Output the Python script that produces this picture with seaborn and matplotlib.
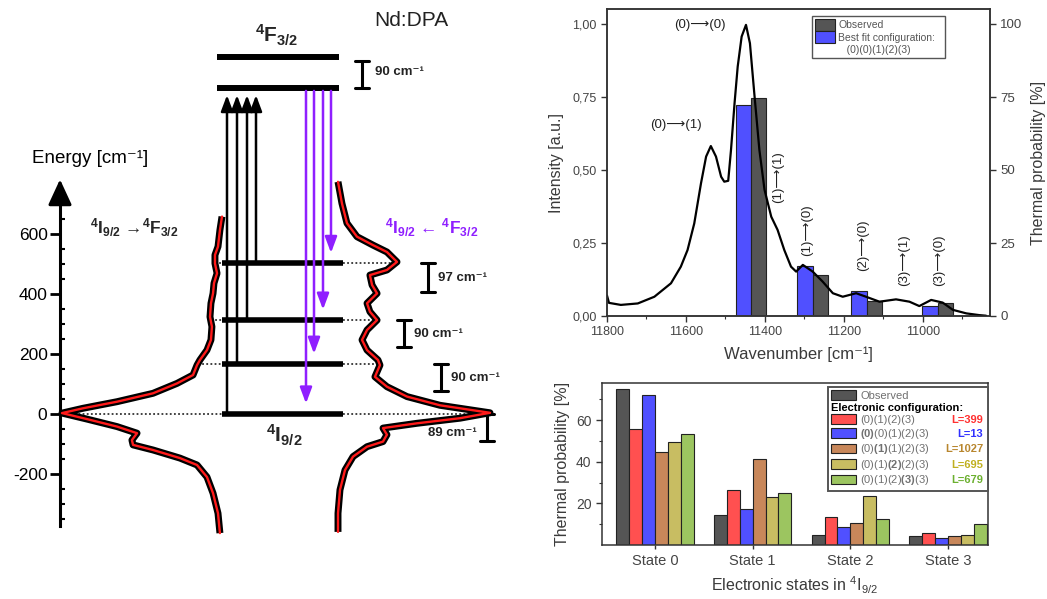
import numpy as np
import pandas as pd
import matplotlib
matplotlib.use("Agg")
import matplotlib.pyplot as plt
import matplotlib.transforms as mtransforms
from matplotlib.patches import Patch
from matplotlib.ticker import FuncFormatter, FixedLocator
import seaborn as sns

sns.set_theme(style="white")
plt.rcParams["font.family"] = ["Liberation Sans", "DejaVu Sans"]
plt.rcParams["mathtext.fontset"] = "custom"
plt.rcParams["mathtext.rm"] = "Liberation Sans"
plt.rcParams["mathtext.it"] = "Liberation Sans:italic"
plt.rcParams["mathtext.bf"] = "Liberation Sans:bold"
plt.rcParams["mathtext.default"] = "regular"
plt.rcParams["axes.unicode_minus"] = False
plt.rcParams["xtick.bottom"] = True
plt.rcParams["ytick.left"] = True

RARR = "\u27f6"

# ---------------- data: energy diagram (cm-1) ----------------
ground_levels = [0, 166, 313, 502]
upper_levels = [1085, 1189]
level_gaps = [89, 90, 90, 97]
upper_gap = 90
energy_ticks = [-200, 0, 200, 400, 600]

abs_energy = [658, 613, 558, 530, 502, 469, 436, 402, 369, 324, 291, 247, 213, 180, 163, 130,
              102, 69, 41, 19, 3, -17, -42, -64, -87, -103, -120, -147, -170, -210, -264, -331, -397]
abs_intensity = [0.0, 0.013, 0.025, 0.044, 0.044, 0.031, 0.05, 0.056, 0.069, 0.075, 0.063, 0.069,
                 0.094, 0.138, 0.156, 0.181, 0.281, 0.431, 0.656, 0.869, 1.0, 0.844, 0.656, 0.531,
                 0.563, 0.556, 0.431, 0.263, 0.156, 0.094, 0.056, 0.025, 0.013]
em_energy = [774, 702, 636, 591, 563, 540, 507, 480, 463, 430, 402, 369, 341, 313, 280, 247, 213,
             180, 163, 124, 91, 58, 29, 4, -14, -31, -47, -69, -92, -109, -142, -187, -253, -331, -393]
em_intensity = [0.0, 0.026, 0.059, 0.125, 0.23, 0.322, 0.388, 0.322, 0.21, 0.224, 0.257, 0.191,
                0.21, 0.257, 0.191, 0.158, 0.191, 0.263, 0.276, 0.243, 0.322, 0.454, 0.671, 1.0,
                0.803, 0.52, 0.296, 0.322, 0.296, 0.191, 0.099, 0.046, 0.013, 0.0, 0.0]

# ---------------- data: emission spectrum ----------------
spec_wn = [11800, 11795, 11765, 11722, 11680, 11638, 11613, 11596, 11579, 11562, 11549, 11537,
           11524, 11511, 11503, 11493, 11486, 11477, 11469, 11459, 11448, 11438, 11427, 11414,
           11401, 11384, 11368, 11351, 11334, 11321, 11304, 11279, 11254, 11228, 11203, 11169,
           11144, 11110, 11068, 11034, 11009, 10979, 10950, 10924, 10890, 10857, 10840]
spec_int = [0.07, 0.045, 0.038, 0.043, 0.066, 0.112, 0.169, 0.226, 0.317, 0.454, 0.546, 0.582,
            0.546, 0.477, 0.46, 0.463, 0.568, 0.728, 0.854, 0.957, 0.997, 0.934, 0.763, 0.568,
            0.432, 0.34, 0.295, 0.226, 0.169, 0.152, 0.175, 0.152, 0.118, 0.078, 0.066, 0.078,
            0.066, 0.049, 0.057, 0.049, 0.034, 0.055, 0.046, 0.021, 0.009, 0.003, 0.001]
bar_wn_fit = [11455, 11299, 11162, 10982]
bar_wn_obs = [11416, 11259, 11122, 10943]
spec_peak_labels = [f"(0){RARR}(0)", f"(0){RARR}(1)", f"(1){RARR}(1)", f"(1){RARR}(0)",
                    f"(2){RARR}(0)", f"(3){RARR}(1)", f"(3){RARR}(0)"]
spec_peak_wn = [11566, 11625, 11367, 11292, 11152, 11047, 10958]
spec_peak_y = [0.995, 0.654, 0.477, 0.295, 0.243, 0.19, 0.19]
spec_peak_rot = [0, 0, 90, 90, 90, 90, 90]

# ---------------- data: thermal probabilities ----------------
states = ["State 0", "State 1", "State 2", "State 3"]
observed = [74.7, 14.2, 5.0, 4.3]
cfg_399 = [55.8, 26.4, 13.3, 5.6]
cfg_13 = [72.2, 17.1, 8.6, 3.5]
cfg_1027 = [44.8, 41.4, 10.6, 4.3]
cfg_695 = [49.6, 23.0, 23.4, 4.8]
cfg_679 = [53.1, 24.8, 12.5, 10.2]
L_values = [399, 13, 1027, 695, 679]
cfg_labels = ["(0)(1)(2)(3)", r"$\mathbf{(0)}$(0)(1)(2)(3)", r"(0)$\mathbf{(1)}$(1)(2)(3)",
              r"(0)(1)$\mathbf{(2)}$(2)(3)", r"(0)(1)(2)$\mathbf{(3)}$(3)"]

# ---------------- styles ----------------
c_obs = "#555555"
c_cfg = ["#ff5050", "#5050ff", "#c8875a", "#c8bd62", "#9cc560"]
c_L = ["#ff3030", "#3030ff", "#b8862e", "#c0b020", "#6cb030"]
purple = "#8f1fff"
txt = "#3a3a3a"

W, H = 1047, 599
fig = plt.figure(figsize=(W / 100, H / 100), dpi=100)

# =============== LEFT: energy diagram ===============
axL = fig.add_axes([0, 0, 520 / W, 1])
axL.set_xlim(0, 520)
axL.set_ylim(-616.7, 1380)
axL.patch.set_visible(False)
for s in ["top", "right", "bottom"]:
    axL.spines[s].set_visible(False)
axL.spines["left"].set_position(("data", 60))
axL.spines["left"].set_bounds(-375, 745)
axL.spines["left"].set_linewidth(2.2)
axL.spines["left"].set_color("black")
axL.set_xticks([])
axL.yaxis.set_major_locator(FixedLocator(energy_ticks))
axL.yaxis.set_minor_locator(FixedLocator([v for v in np.arange(-350, 701, 50) if v not in energy_ticks]))
axL.tick_params(axis="y", which="major", left=True, direction="out", length=7, width=2,
                labelsize=12.5, colors="black", pad=2)
axL.tick_params(axis="y", which="minor", left=True, direction="in", length=3.5, width=1.5, color="black")
axL.annotate("", xy=(60, 782), xytext=(60, 720),
             arrowprops=dict(arrowstyle="-|>,head_width=0.6,head_length=1.3", color="black",
                             lw=2.2, shrinkA=0, shrinkB=0))
axL.text(32, 853, "Energy [cm\u207b\u00b9]", fontsize=13.5, ha="left", va="center", color="black")

abs_base, abs_scale = 222, 160
em_base, em_scale = 338, 152
absx = abs_base - abs_scale * np.array(abs_intensity)
emx = em_base + em_scale * np.array(em_intensity)
lvl_x0, lvl_x1 = 222, 343

# dotted guide lines
absE = np.array(abs_energy)[::-1]; absX = absx[::-1]
emE = np.array(em_energy)[::-1]; emX = emx[::-1]
for lv in ground_levels:
    xl = np.interp(lv, absE, absX)
    xr = np.interp(lv, emE, emX)
    axL.plot([xl, lvl_x0], [lv, lv], ls=(0, (1, 1.3)), color="#333333", lw=1.3)
    axL.plot([lvl_x1, xr], [lv, lv], ls=(0, (1, 1.3)), color="#333333", lw=1.3)

for xs, ys in [(absx, abs_energy), (emx, em_energy)]:
    axL.plot(xs, ys, color="black", lw=5, solid_capstyle="butt", zorder=3)
    axL.plot(xs, ys, color="#ff1a1a", lw=1.7, zorder=4)

axL.hlines(ground_levels, lvl_x0, lvl_x1, color="black", lw=4, zorder=5)
axL.hlines(upper_levels, 217, 339, color="black", lw=4.3, zorder=5)

abs_arrow_x = [227, 237, 247, 256]
for x, lv in zip(abs_arrow_x, ground_levels):
    axL.annotate("", xy=(x, upper_levels[0] - 22), xytext=(x, lv),
                 arrowprops=dict(arrowstyle="-|>,head_width=0.3,head_length=0.8", color="black",
                                 lw=1.8, shrinkA=0, shrinkB=0), zorder=6)
em_arrow_x = [306, 314, 323, 331]
for x, lv in zip(em_arrow_x, ground_levels):
    axL.annotate("", xy=(x, lv + 35), xytext=(x, upper_levels[0] - 8),
                 arrowprops=dict(arrowstyle="-|>,head_width=0.3,head_length=0.8", color=purple,
                                 lw=1.8, shrinkA=0, shrinkB=0), zorder=6)

def bracket(x, top, gap, half=7):
    axL.plot([x, x], [top - gap, top], color="black", lw=2.2)
    axL.plot([x - half, x + half], [top, top], color="black", lw=2.2)
    axL.plot([x - half, x + half], [top - gap, top - gap], color="black", lw=2.2)

bracket_x = [487, 441, 404, 428]
for bx, lv, g in zip(bracket_x, ground_levels, level_gaps):
    bracket(bx, lv, g)
    if lv == 0:
        axL.text(bx - 10, lv - g * 0.72, f"{g} cm\u207b\u00b9", ha="right", va="center",
                 fontsize=9.5, fontweight="bold", color="#222222")
    else:
        axL.text(bx + 10, lv - g / 2, f"{g} cm\u207b\u00b9", ha="left", va="center",
                 fontsize=9.5, fontweight="bold", color="#222222")
bracket(362, upper_levels[0] + upper_gap, upper_gap)
axL.text(375, upper_levels[0] + upper_gap / 2 + 10, f"{upper_gap} cm\u207b\u00b9", ha="left", va="center",
         fontsize=9.5, fontweight="bold", color="#222222")

axL.text(277, 1262, r"$^{4}$F$_{3/2}$", ha="center", va="center", fontsize=15, fontweight="bold")
axL.text(411, 1313, "Nd:DPA", ha="center", va="center", fontsize=15, color="#222222")
axL.text(90, 620, r"$^{4}$I$_{9/2}$ " + "\u2192" + r"$^{4}$F$_{3/2}$",
         ha="left", va="center", fontsize=12.5, fontweight="bold")
axL.text(385, 620, r"$^{4}$I$_{9/2}$ " + "\u2190" + r" $^{4}$F$_{3/2}$",
         ha="left", va="center", fontsize=12.5, fontweight="bold", color=purple)
axL.text(284, -72, r"$^{4}$I$_{9/2}$", ha="center", va="center", fontsize=15, fontweight="bold")

# =============== TOP RIGHT: spectrum ===============
ax1 = fig.add_axes([607 / W, 1 - 316 / H, 383 / W, 306.6 / H])
ax1.set_xlim(11800, 10830)
ax1.set_ylim(0, 1.05)
ax1.bar(bar_wn_fit, np.array(cfg_13) / 100, width=39, color="#5050ff", edgecolor="#222222", lw=0.8, zorder=2)
ax1.bar(bar_wn_obs, np.array(observed) / 100, width=39, color=c_obs, edgecolor="#222222", lw=0.8, zorder=2)
sns.lineplot(x=spec_wn, y=spec_int, ax=ax1, color="black", lw=1.6, zorder=3)
for lab, xw, yv, rot in zip(spec_peak_labels, spec_peak_wn, spec_peak_y, spec_peak_rot):
    ax1.text(xw, yv, lab, rotation=rot, ha="center", va="center", fontsize=9.5, color="#222222")
ax1.set_yticks([0, 0.25, 0.5, 0.75, 1.0])
ax1.yaxis.set_major_formatter(FuncFormatter(lambda v, p: f"{v:.2f}".replace(".", ",")))
ax1.set_xticks([11800, 11600, 11400, 11200, 11000])
ax1.set_xticks([11700, 11500, 11300, 11100, 10900], minor=True)
ax1.tick_params(axis="both", which="major", direction="out", length=4, width=1, labelsize=9,
                labelcolor="#444444", color="#333333", left=True, bottom=True)
ax1.tick_params(axis="x", which="minor", direction="out", length=2.5, width=0.8, bottom=True, color="#333333")
ax1.set_ylabel("Intensity [a.u.]", fontsize=11.5, color=txt, labelpad=6)
ax1.set_xlabel("Wavenumber [cm\u207b\u00b9]", fontsize=12, color=txt, labelpad=6)
for s in ax1.spines.values():
    s.set_color("#333333"); s.set_linewidth(1.1)
ax1r = ax1.twinx()
ax1r.set_ylim(0, 105)
ax1r.set_yticks([0, 25, 50, 75, 100])
ax1r.tick_params(axis="y", right=True, direction="out", length=4, width=1, labelsize=9.5,
                 labelcolor="#444444", color="#333333")
ax1r.set_ylabel("Thermal probability [%]", fontsize=11.5, color=txt, labelpad=6)
for s in ax1r.spines.values():
    s.set_color("#333333"); s.set_linewidth(1.1)
leg1 = ax1.legend(handles=[Patch(facecolor=c_obs, edgecolor="#222222", lw=0.8),
                           Patch(facecolor="#5050ff", edgecolor="#222222", lw=0.8),
                           Patch(facecolor="none", edgecolor="none")],
                  labels=["Observed", "Best fit configuration:", "   (0)(0)(1)(2)(3)"],
                  bbox_to_anchor=(0.535, 0.5, 0.348, 0.477), loc="upper left", mode="expand",
                  borderaxespad=0, fontsize=7.5, labelcolor="#555555", fancybox=False,
                  framealpha=1, edgecolor="#555555", handlelength=2.0, handleheight=1.35,
                  handletextpad=0.3, labelspacing=0.05, borderpad=0.25)
leg1.get_frame().set_linewidth(1.0)

# =============== BOTTOM RIGHT: thermal probability bars ===============
ax3 = fig.add_axes([602 / W, 1 - 545 / H, 386 / W, 162 / H])
cfg_names = ["Observed", "L=399", "L=13", "L=1027", "L=695", "L=679"]
series = [observed, cfg_399, cfg_13, cfg_1027, cfg_695, cfg_679]
df = pd.DataFrame([(st, nm, v) for nm, vals in zip(cfg_names, series) for st, v in zip(states, vals)],
                  columns=["state", "config", "prob"])
palette = dict(zip(cfg_names, [c_obs] + c_cfg))
sns.barplot(data=df, x="state", y="prob", hue="config", hue_order=cfg_names, order=states,
            palette=palette, width=0.79, saturation=1, edgecolor="#222222", linewidth=0.8,
            errorbar=None, legend=False, ax=ax3)
ax3.set_xlim(-0.543, 3.41)
ax3.set_ylim(0, 77.8)
ax3.set_yticks([20, 40, 60])
ax3.set_yticks([10, 30, 50, 70], minor=True)
ax3.tick_params(axis="y", which="major", left=True, direction="out", length=4, width=1,
                labelsize=10, labelcolor="#444444", color="#333333")
ax3.tick_params(axis="y", which="minor", left=True, direction="out", length=2.5, width=0.8, color="#333333")
ax3.tick_params(axis="x", which="major", bottom=True, direction="out", length=3, width=1,
                labelsize=10.5, labelcolor="#444444", color="#333333")
ax3.set_ylabel("Thermal probability [%]", fontsize=11.5, color=txt, labelpad=4)
ax3.set_xlabel(r"Electronic states in $^{4}$I$_{9/2}$", fontsize=11.5, color=txt, labelpad=5)
for s in ax3.spines.values():
    s.set_color("#333333"); s.set_linewidth(1.1)

h3 = [Patch(facecolor=c_obs, edgecolor="#222222", lw=0.8), Patch(facecolor="none", edgecolor="none")]
h3 += [Patch(facecolor=c, edgecolor="#222222", lw=0.8) for c in c_cfg]
leg3 = ax3.legend(handles=h3, labels=["Observed", "Electronic configuration:"] + cfg_labels,
                  bbox_to_anchor=(0.585, 0.5, 0.415, 0.477), loc="upper left", mode="expand",
                  borderaxespad=0, fontsize=8, fancybox=False, framealpha=1, edgecolor="#555555",
                  handlelength=2.2, handleheight=0.95, handletextpad=0.4, labelspacing=0.14,
                  borderpad=0.3)
leg3.get_frame().set_linewidth(1.4)
texts3 = leg3.get_texts()
for i, t in enumerate(texts3):
    t.set_color("#707070")
texts3[1].set_color("black")
texts3[1].set_fontweight("bold")
shift = (2.2 + 0.4) * 8 / 72.0
texts3[1].set_transform(texts3[1].get_transform() +
                        mtransforms.ScaledTranslation(-shift, 0, fig.dpi_scale_trans))

fig.canvas.draw()
renderer = fig.canvas.get_renderer()
lb = leg3.get_window_extent(renderer)
for t, L, c in zip(texts3[2:], L_values, c_L):
    bb = t.get_window_extent(renderer)
    fig.text((lb.x1 - 5) / fig.bbox.width, ((bb.y0 + bb.y1) / 2) / fig.bbox.height, f"L={L}",
             ha="right", va="center", fontsize=8, fontweight="bold", color=c)

fig.savefig("out.png", dpi=100)
